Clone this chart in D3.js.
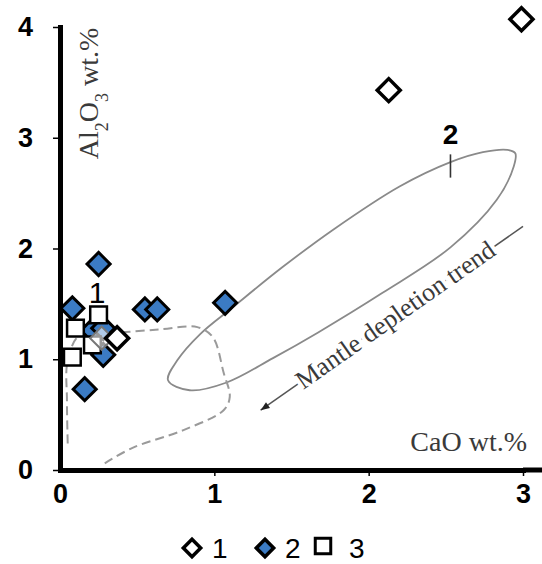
<!doctype html>
<html>
<head>
  <script src="https://d3js.org/d3.v7.min.js"></script>
</head>
<style>
  body { margin: 0; background: #fff; }
  svg text { font-family: "Liberation Sans", Arial, sans-serif; fill: #000; }
  svg text.serif { font-family: "Liberation Serif", "Times New Roman", serif; fill: #3a3a3a; }
</style>
<body>
<svg></svg>
<script>
  // tick values
  const xTicks = [0, 1, 2, 3];
  const yTicks = [0, 1, 2, 3, 4];

  // 1: open diamonds
  const s1X = [2.13, 2.99, 0.37];
  const s1Y = [3.43, 4.07, 1.19];
  // faint grey diamond inside the cluster
  const faintX = [0.27];
  const faintY = [1.19];

  // 2: blue diamonds
  const s2X = [0.25, 0.08, 0.55, 0.63, 1.07, 0.16, 0.21, 0.28, 0.28];
  const s2Y = [1.86, 1.46, 1.45, 1.45, 1.51, 0.73, 1.26, 1.28, 1.04];

  // 3: open squares
  const s3X = [0.25, 0.10, 0.21, 0.08];
  const s3Y = [1.40, 1.28, 1.13, 1.02];

  // field 2 outline (solid ellipse)
  const field2X = [0.70, 0.84, 1.08, 1.38, 1.67, 2.09, 2.53, 2.83, 2.94, 2.95, 2.90, 2.74, 2.53, 2.20, 1.77, 1.44, 1.12, 0.91, 0.76];
  const field2Y = [0.81, 0.72, 0.79, 1.01, 1.24, 1.60, 2.01, 2.44, 2.74, 2.86, 2.89, 2.87, 2.78, 2.56, 2.17, 1.83, 1.47, 1.23, 0.99];

  // field 1 outline (dashed, open)
  const field1X = [0.29, 0.47, 0.80, 1.06, 1.10, 1.06, 0.99, 0.89, 0.65, 0.37, 0.13, 0.05, 0.045, 0.05];
  const field1Y = [0.06, 0.20, 0.36, 0.54, 0.66, 0.88, 1.20, 1.29, 1.27, 1.24, 1.22, 0.99, 0.63, 0.24];

  // depletion trend arrow: start, tip
  const trendX = [3.0, 1.3];
  const trendY = [2.2, 0.54];

  const width = 542, height = 564;
  const svg = d3.select("svg").attr("width", width).attr("height", height);

  const x = d3.scaleLinear().domain([0, 3]).range([60, 523]);
  const y = d3.scaleLinear().domain([0, 4]).range([470, 27]);

  // fields
  const line = d3.line().x(d => x(d[0])).y(d => y(d[1]));

  svg.append("path")
    .attr("d", line.curve(d3.curveCatmullRomClosed)(field2X.map((v, i) => [v, field2Y[i]])))
    .attr("fill", "none")
    .attr("stroke", "#8a8a8a")
    .attr("stroke-width", 1.8);

  svg.append("path")
    .attr("d", line.curve(d3.curveCatmullRom)(field1X.map((v, i) => [v, field1Y[i]])))
    .attr("fill", "none")
    .attr("stroke", "#9a9a9a")
    .attr("stroke-width", 2)
    .attr("stroke-dasharray", "9,5");

  // label "2" on the field, with its small marker
  svg.append("line")
    .attr("x1", x(2.53)).attr("x2", x(2.53))
    .attr("y1", y(2.85)).attr("y2", y(2.64))
    .attr("stroke", "#333").attr("stroke-width", 1.6);
  svg.append("text")
    .attr("x", x(2.53)).attr("y", y(2.94))
    .attr("text-anchor", "middle")
    .attr("font-size", 28).attr("font-weight", "bold")
    .text("2");

  // label "1" near the cluster
  svg.append("text")
    .attr("x", x(0.24)).attr("y", y(1.51))
    .attr("text-anchor", "middle")
    .attr("font-size", 30)
    .attr("fill", "#222")
    .text("1");

  // trend arrow
  const ax0 = x(trendX[0]), ay0 = y(trendY[0]), ax1 = x(trendX[1]), ay1 = y(trendY[1]);
  const ang = Math.atan2(ay1 - ay0, ax1 - ax0) * 180 / Math.PI;
  svg.append("line")
    .attr("x1", ax0).attr("y1", ay0).attr("x2", ax1).attr("y2", ay1)
    .attr("stroke", "#555").attr("stroke-width", 1.5);
  svg.append("path")
    .attr("d", "M0,0 L-9,-3.5 L-9,3.5 Z")
    .attr("transform", `translate(${ax1},${ay1}) rotate(${ang})`)
    .attr("fill", "#222");
  const tcx = (x(1.54) + x(2.81)) / 2;
  const tcy = ay0 + (tcx - ax0) * (ay1 - ay0) / (ax1 - ax0);
  svg.append("text")
    .attr("class", "serif")
    .attr("transform", `translate(${tcx},${tcy}) rotate(${ang + 180})`)
    .attr("text-anchor", "middle")
    .attr("dy", "0.3em")
    .attr("font-size", 26)
    .attr("stroke", "#fff").attr("stroke-width", 8).attr("paint-order", "stroke")
    .text("Mantle depletion trend");

  // axes
  const fmt = d3.format("d");
  const xAxis = svg.append("g")
    .attr("transform", `translate(0,${y(0)})`)
    .call(d3.axisBottom(x).tickValues(xTicks).tickFormat(fmt).tickSize(6).tickPadding(8).tickSizeOuter(0));
  const yAxis = svg.append("g")
    .attr("transform", `translate(${x(0)},0)`)
    .call(d3.axisLeft(y).tickValues(yTicks).tickFormat(fmt).tickSize(7).tickPadding(20).tickSizeOuter(0));
  [xAxis, yAxis].forEach(g => {
    g.select(".domain").attr("stroke-width", 5).attr("stroke", "#000").attr("stroke-linecap", "square");
    g.selectAll(".tick line").attr("stroke-width", 1.5);
    g.selectAll(".tick text")
      .attr("font-size", 27).attr("font-weight", "bold")
      .attr("font-family", "Liberation Sans, Arial, sans-serif");
  });
  xAxis.select(".tick line").remove();
  xAxis.append("line")
    .attr("x1", x(3)).attr("x2", width).attr("y1", 0).attr("y2", 0)
    .attr("stroke", "#000").attr("stroke-width", 5);

  // axis titles
  const yTitle = svg.append("text")
    .attr("class", "serif")
    .attr("transform", `translate(${x(0) + 38},${y(3.4)}) rotate(-90)`)
    .attr("text-anchor", "middle")
    .attr("font-size", 28);
  yTitle.append("tspan").text("Al");
  yTitle.append("tspan").attr("baseline-shift", "sub").attr("font-size", 18).text("2");
  yTitle.append("tspan").text("O");
  yTitle.append("tspan").attr("baseline-shift", "sub").attr("font-size", 18).text("3");
  yTitle.append("tspan").text(" wt.%");

  svg.append("text")
    .attr("class", "serif")
    .attr("x", 527).attr("y", y(0.17))
    .attr("text-anchor", "end")
    .attr("font-size", 28)
    .text("CaO wt.%");

  // points
  const diamond = d3.symbol().type(d3.symbolSquare).size(265)();
  const square = d3.symbol().type(d3.symbolSquare).size(280)();

  svg.append("g").selectAll("path")
    .data(s2X.map((v, i) => [v, s2Y[i]]))
    .join("path")
    .attr("d", diamond)
    .attr("transform", d => `translate(${x(d[0])},${y(d[1])}) rotate(45)`)
    .attr("fill", "#3b7bc4").attr("stroke", "#000").attr("stroke-width", 3);

  svg.append("g").selectAll("path")
    .data(s3X.map((v, i) => [v, s3Y[i]]))
    .join("path")
    .attr("d", square)
    .attr("transform", d => `translate(${x(d[0])},${y(d[1])})`)
    .attr("fill", "#fff").attr("stroke", "#000").attr("stroke-width", 2.5);

  svg.append("g").selectAll("path")
    .data(faintX.map((v, i) => [v, faintY[i]]))
    .join("path")
    .attr("d", diamond)
    .attr("transform", d => `translate(${x(d[0])},${y(d[1])}) rotate(45)`)
    .attr("fill", "#fff").attr("fill-opacity", 0.6).attr("stroke", "#777").attr("stroke-width", 2);

  svg.append("g").selectAll("path")
    .data(s1X.map((v, i) => [v, s1Y[i]]))
    .join("path")
    .attr("d", diamond)
    .attr("transform", d => `translate(${x(d[0])},${y(d[1])}) rotate(45)`)
    .attr("fill", "#fff").attr("stroke", "#000").attr("stroke-width", 3.5);

  // legend
  const legendNames = ["1", "2", "3"];
  const legendX = [192, 265, 323];
  const legendY = 548;
  const lg = svg.append("g");
  const smallDiamond = d3.symbol().type(d3.symbolSquare).size(150)();
  legendNames.forEach((name, i) => {
    const m = lg.append("path")
      .attr("stroke", "#000");
    if (i < 2) {
      m.attr("d", smallDiamond)
        .attr("transform", `translate(${legendX[i]},${legendY}) rotate(45)`)
        .attr("fill", i === 0 ? "#fff" : "#3b7bc4")
        .attr("stroke-width", 3.5);
    } else {
      m.attr("d", d3.symbol().type(d3.symbolSquare).size(240)())
        .attr("transform", `translate(${legendX[i]},${legendY - 2})`)
        .attr("fill", "#fff")
        .attr("stroke-width", 3);
    }
    lg.append("text")
      .attr("x", legendX[i] + (i === 2 ? 26 : 20))
      .attr("y", legendY)
      .attr("dy", "0.36em")
      .attr("font-size", 28)
      .text(name);
  });
</script>
</body>
</html>
